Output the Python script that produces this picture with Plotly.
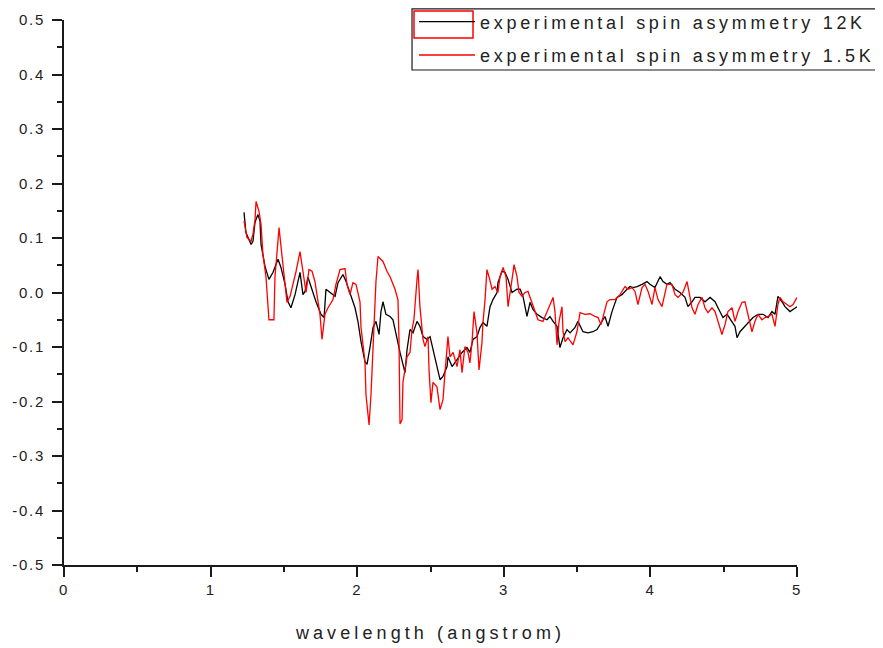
import plotly.graph_objects as go

# ---- data ----
black_x = [1.228, 1.241, 1.276, 1.289, 1.303, 1.323, 1.337, 1.344, 1.371, 1.398, 1.426, 1.460, 1.480, 1.508,
           1.528, 1.548, 1.576, 1.610, 1.630, 1.644, 1.664, 1.685, 1.719, 1.753, 1.774, 1.787, 1.814, 1.849,
           1.869, 1.903, 1.924, 1.951, 1.985, 2.005, 2.026, 2.053, 2.067, 2.087, 2.108, 2.128, 2.149, 2.162,
           2.176, 2.196, 2.224, 2.244, 2.271, 2.292, 2.326, 2.340, 2.360, 2.381, 2.408, 2.428, 2.449, 2.476,
           2.497, 2.517, 2.544, 2.565, 2.585, 2.613, 2.619, 2.647, 2.681, 2.715, 2.749, 2.769, 2.790, 2.817,
           2.838, 2.858, 2.885, 2.906, 2.926, 2.954, 2.960, 2.988, 3.008, 3.029, 3.056, 3.090, 3.111, 3.131,
           3.158, 3.179, 3.199, 3.227, 3.261, 3.295, 3.315, 3.336, 3.363, 3.383, 3.404, 3.431, 3.452, 3.486,
           3.506, 3.540, 3.574, 3.608, 3.636, 3.656, 3.690, 3.711, 3.738, 3.772, 3.806, 3.840, 3.861, 3.881,
           3.909, 3.943, 3.977, 3.997, 4.031, 4.066, 4.086, 4.113, 4.134, 4.168, 4.202, 4.236, 4.256, 4.284,
           4.304, 4.338, 4.372, 4.407, 4.441, 4.461, 4.495, 4.523, 4.557, 4.577, 4.591, 4.611, 4.645, 4.679,
           4.700, 4.734, 4.768, 4.802, 4.829, 4.850, 4.870, 4.898, 4.918, 4.952, 4.973, 5.000]
black_y = [0.147, 0.110, 0.088, 0.094, 0.129, 0.143, 0.131, 0.088, 0.048, 0.024, 0.037, 0.061, 0.046, 0.015,
           -0.017, -0.028, -0.004, 0.037, -0.004, 0.002, 0.028, 0.009, -0.017, -0.040, -0.046, 0.006, 0.000, -0.007,
           0.018, 0.033, 0.020, 0.000, -0.028, -0.053, -0.090, -0.127, -0.132, -0.101, -0.064, -0.053, -0.077, -0.035,
           -0.017, -0.040, -0.044, -0.050, -0.086, -0.110, -0.147, -0.105, -0.068, -0.074, -0.053, -0.062, -0.081, -0.086,
           -0.081, -0.105, -0.136, -0.160, -0.154, -0.136, -0.118, -0.136, -0.123, -0.110, -0.101, -0.110, -0.086, -0.081,
           -0.064, -0.055, -0.062, -0.026, -0.013, 0.000, 0.018, 0.039, 0.037, 0.024, 0.000, 0.006, 0.006, -0.007,
           -0.044, -0.018, -0.031, -0.040, -0.046, -0.050, -0.044, -0.053, -0.062, -0.101, -0.083, -0.068, -0.074, -0.064,
           -0.053, -0.072, -0.074, -0.072, -0.068, -0.059, -0.044, -0.062, -0.035, -0.009, -0.004, 0.006, 0.011, 0.009,
           0.011, 0.015, 0.020, 0.015, 0.009, 0.029, 0.020, 0.015, 0.018, 0.006, 0.000, -0.009, -0.026, -0.017,
           -0.009, -0.009, -0.017, -0.009, -0.017, -0.028, -0.046, -0.040, -0.053, -0.062, -0.083, -0.072, -0.062, -0.053,
           -0.046, -0.040, -0.040, -0.046, -0.035, -0.040, -0.007, -0.017, -0.026, -0.035, -0.031, -0.026]

red_x = [1.228, 1.248, 1.276, 1.289, 1.303, 1.310, 1.330, 1.344, 1.357, 1.378, 1.398, 1.432, 1.439, 1.453,
         1.467, 1.480, 1.494, 1.508, 1.521, 1.542, 1.562, 1.583, 1.610, 1.630, 1.651, 1.671, 1.692, 1.712,
         1.726, 1.746, 1.760, 1.780, 1.801, 1.835, 1.855, 1.883, 1.917, 1.930, 1.951, 1.971, 1.992, 2.019,
         2.026, 2.053, 2.060, 2.081, 2.094, 2.108, 2.121, 2.128, 2.142, 2.176, 2.203, 2.224, 2.258, 2.278,
         2.285, 2.292, 2.306, 2.312, 2.340, 2.360, 2.374, 2.387, 2.408, 2.415, 2.428, 2.442, 2.449, 2.462,
         2.483, 2.490, 2.503, 2.517, 2.544, 2.565, 2.585, 2.599, 2.619, 2.633, 2.654, 2.681, 2.701, 2.715,
         2.735, 2.756, 2.769, 2.783, 2.797, 2.817, 2.831, 2.851, 2.858, 2.872, 2.885, 2.899, 2.920, 2.940,
         2.960, 2.974, 2.995, 3.015, 3.029, 3.056, 3.070, 3.090, 3.104, 3.124, 3.145, 3.165, 3.192, 3.213,
         3.233, 3.267, 3.302, 3.336, 3.349, 3.363, 3.377, 3.397, 3.404, 3.418, 3.438, 3.472, 3.499, 3.520,
         3.554, 3.588, 3.622, 3.643, 3.663, 3.677, 3.704, 3.724, 3.759, 3.793, 3.827, 3.847, 3.875, 3.895,
         3.915, 3.943, 3.963, 3.984, 4.011, 4.031, 4.052, 4.079, 4.100, 4.113, 4.147, 4.168, 4.188, 4.222,
         4.250, 4.263, 4.284, 4.304, 4.325, 4.352, 4.372, 4.393, 4.420, 4.441, 4.461, 4.488, 4.509, 4.529,
         4.557, 4.577, 4.598, 4.625, 4.645, 4.666, 4.693, 4.713, 4.734, 4.761, 4.782, 4.802, 4.829, 4.850,
         4.870, 4.884, 4.905, 4.932, 4.952, 4.973, 5.000]
red_y = [0.131, 0.101, 0.094, 0.107, 0.134, 0.167, 0.149, 0.125, 0.070, 0.028, -0.050, -0.050, 0.028, 0.079,
         0.119, 0.085, 0.046, 0.015, -0.018, -0.007, 0.015, 0.039, 0.075, 0.039, 0.000, 0.042, 0.039, 0.020,
         -0.004, -0.040, -0.086, -0.040, -0.028, -0.013, 0.015, 0.042, 0.044, 0.015, -0.004, 0.018, 0.015, -0.017,
         -0.064, -0.127, -0.188, -0.243, -0.188, -0.090, -0.028, 0.020, 0.066, 0.057, 0.039, 0.029, 0.006, -0.013,
         -0.086, -0.241, -0.233, -0.165, -0.118, -0.110, -0.068, -0.050, 0.024, 0.042, -0.026, -0.062, -0.086, -0.099,
         -0.081, -0.142, -0.202, -0.165, -0.173, -0.215, -0.197, -0.147, -0.081, -0.118, -0.110, -0.136, -0.105, -0.147,
         -0.099, -0.110, -0.129, -0.092, -0.035, -0.074, -0.142, -0.092, -0.055, -0.013, 0.042, 0.029, 0.006, 0.011,
         0.000, 0.029, 0.046, 0.029, -0.026, 0.024, 0.051, 0.029, 0.000, -0.007, 0.000, 0.002, -0.018, -0.035,
         -0.050, -0.053, -0.031, -0.009, -0.035, -0.096, -0.053, -0.026, -0.072, -0.090, -0.083, -0.096, -0.072, -0.037,
         -0.040, -0.039, -0.044, -0.046, -0.059, -0.044, -0.017, -0.013, -0.013, -0.004, 0.011, 0.006, 0.009, 0.002,
         -0.022, 0.009, 0.015, 0.002, -0.022, 0.009, -0.013, -0.026, 0.002, 0.015, 0.015, -0.004, -0.009, 0.000,
         0.020, 0.002, -0.028, -0.040, -0.022, -0.009, -0.028, -0.037, -0.028, -0.035, -0.055, -0.077, -0.059, -0.035,
         -0.028, -0.053, -0.035, -0.018, -0.017, -0.040, -0.072, -0.053, -0.040, -0.050, -0.046, -0.044, -0.040, -0.062,
         -0.022, -0.009, -0.017, -0.022, -0.026, -0.022, -0.009]

series_names = ["experimental spin asymmetry 12K", "experimental spin asymmetry 1.5K"]
x_tick_vals = [0, 1, 2, 3, 4, 5]
x_tick_labels = ["0", "1", "2", "3", "4", "5"]
y_tick_vals = [-0.5, -0.4, -0.3, -0.2, -0.1, 0.0, 0.1, 0.2, 0.3, 0.4, 0.5]
y_tick_labels = ["-0.5", "-0.4", "-0.3", "-0.2", "-0.1", "0.0", "0.1", "0.2", "0.3", "0.4", "0.5"]
x_title = "wavelength (angstrom)"


def spaced(t, px):
    return '<span style="letter-spacing:%spx">%s</span>' % (px, t)


FONT = "Liberation Sans, Arial, sans-serif"

fig = go.Figure()
fig.add_trace(go.Scatter(x=black_x, y=black_y, mode="lines", name=spaced(series_names[0], 3.7),
                         line=dict(color="black", width=1.3), legendgroup="a"))
fig.add_trace(go.Scatter(x=red_x, y=red_y, mode="lines", name=spaced(series_names[1], 3.7),
                         line=dict(color="#ff0000", width=1.3), legendgroup="b"))

axis_common = dict(showline=True, linecolor="#1a1a1a", linewidth=1.6, mirror=False,
                   showgrid=False, zeroline=False, ticks="outside", ticklen=10,
                   tickwidth=1.5, tickcolor="#1a1a1a", automargin=False,
                   tickfont=dict(family=FONT, size=15, color="#222222"))

fig.update_xaxes(range=[0, 5], tickvals=x_tick_vals,
                 ticktext=[spaced(t, 1.5) for t in x_tick_labels],
                 minor=dict(tickvals=[0.5, 1.5, 2.5, 3.5, 4.5], ticklen=5, tickwidth=1.5,
                            tickcolor="#1a1a1a", ticks="outside"),
                 title=dict(text=spaced(x_title, 4.1), font=dict(family=FONT, size=18, color="#222222"),
                            standoff=30),
                 **axis_common)
fig.update_yaxes(range=[-0.5, 0.5], tickvals=y_tick_vals,
                 ticktext=[spaced(t, 1.8) for t in y_tick_labels],
                 ticklabelstandoff=4,
                 minor=dict(tickvals=[-0.45, -0.35, -0.25, -0.15, -0.05, 0.05, 0.15, 0.25, 0.35, 0.45],
                            ticklen=5, tickwidth=1.5, tickcolor="#1a1a1a", ticks="outside"),
                 **axis_common)

fig.update_layout(
    width=883, height=648,
    margin=dict(l=56, r=94, t=12, b=91, autoexpand=False),
    plot_bgcolor="white", paper_bgcolor="white",
    showlegend=True,
    legend=dict(x=0.4775, y=1.0305, xanchor="left", yanchor="top",
                bgcolor="rgba(0,0,0,0)", borderwidth=0,
                font=dict(family=FONT, size=18, color="#222222"),
                itemwidth=56, tracegroupgap=7, traceorder="grouped"),
    shapes=[
        # legend frame
        dict(type="rect", xref="paper", yref="paper",
             x0=0.4748, x1=1.1158, y0=0.9083, y1=1.0205,
             line=dict(color="#1a1a1a", width=1.2), fillcolor="rgba(0,0,0,0)", layer="above"),
        # red selection box around the first legend sample
        dict(type="rect", xref="paper", yref="paper",
             x0=0.4775, x1=0.5580, y0=0.967, y1=1.0163,
             line=dict(color="#ff0000", width=1.5), fillcolor="rgba(0,0,0,0)", layer="above"),
    ],
)

fig.write_html("out.html")
